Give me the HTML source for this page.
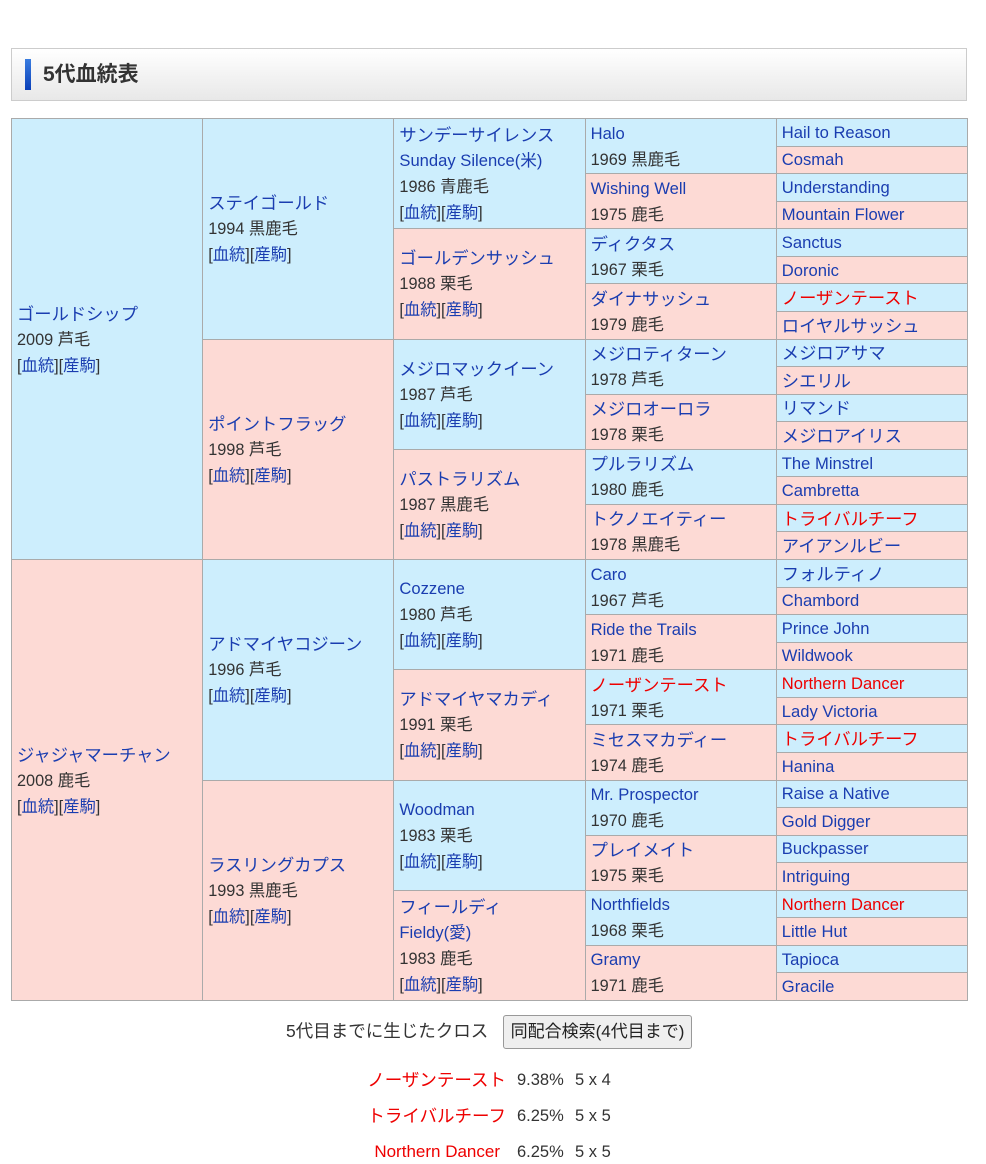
<!DOCTYPE html>
<html><head><meta charset="utf-8"><style>
body{margin:0;background:#fff;font-family:"Liberation Sans","Noto Sans CJK JP",sans-serif;color:#333;width:986px;height:1164px;position:relative;overflow:hidden}
.hd{position:absolute;left:11px;top:48px;width:954px;height:51px;border:1px solid #ccc;background:linear-gradient(#fff,#e8e8e8)}
.bar{position:absolute;left:13px;top:10px;width:6px;height:31px;background:linear-gradient(#3a7de0,#0a3fb8)}
.hd h2{position:absolute;left:31px;top:0;margin:0;line-height:51px;font-size:21px;font-weight:bold;color:#333}
.g{position:absolute;left:11px;top:118px;width:956px;height:882px;display:grid;grid-template-columns:repeat(5,1fr);grid-template-rows:repeat(32,1fr);border-top:1px solid #aaa;border-left:1px solid #aaa}
.g>div{border-right:1px solid #aaa;border-bottom:1px solid #aaa;display:flex;flex-direction:column;justify-content:center;padding-left:5px;padding-top:1px;line-height:26px;font-size:16.3px;overflow:hidden;white-space:nowrap}
.m{background:#cdeefd}.f{background:#fddad5}
.n{color:#1a3db0;font-size:17.3px}
.g5 .n,.l{font-size:16.6px}
.r{color:#e00!important}
a{color:#1a3db0;text-decoration:none}
.foot{position:absolute;left:286px;top:1018px;font-size:17.5px;line-height:26px}
.btn{position:absolute;left:503px;top:1015px;width:187px;height:32px;border:1px solid #999;border-radius:3px;background:#efefef;font-size:17px;line-height:32px;text-align:center;color:#222}
.cr{position:absolute;left:0;width:986px;font-size:16.5px;line-height:24px}
.cr span{position:absolute}
.cr .nm{right:480px;color:#e00;font-size:17.5px}
</style></head><body>
<div class="hd"><div class="bar"></div><h2>5代血統表</h2></div>
<div class="g">
<div class="m" style="grid-column:1;grid-row:1/17"><span class="n">ゴールドシップ</span><span>2009 芦毛</span><span>[<a>血統</a>][<a>産駒</a>]</span></div>
<div class="f" style="grid-column:1;grid-row:17/33"><span class="n">ジャジャマーチャン</span><span>2008 鹿毛</span><span>[<a>血統</a>][<a>産駒</a>]</span></div>

<div class="m" style="grid-column:2;grid-row:1/9"><span class="n">ステイゴールド</span><span>1994 黒鹿毛</span><span>[<a>血統</a>][<a>産駒</a>]</span></div>
<div class="f" style="grid-column:2;grid-row:9/17"><span class="n">ポイントフラッグ</span><span>1998 芦毛</span><span>[<a>血統</a>][<a>産駒</a>]</span></div>
<div class="m" style="grid-column:2;grid-row:17/25"><span class="n">アドマイヤコジーン</span><span>1996 芦毛</span><span>[<a>血統</a>][<a>産駒</a>]</span></div>
<div class="f" style="grid-column:2;grid-row:25/33"><span class="n">ラスリングカプス</span><span>1993 黒鹿毛</span><span>[<a>血統</a>][<a>産駒</a>]</span></div>

<div class="m" style="grid-column:3;grid-row:1/5"><span class="n">サンデーサイレンス</span><span class="n l">Sunday Silence(米)</span><span>1986 青鹿毛</span><span>[<a>血統</a>][<a>産駒</a>]</span></div>
<div class="f" style="grid-column:3;grid-row:5/9"><span class="n">ゴールデンサッシュ</span><span>1988 栗毛</span><span>[<a>血統</a>][<a>産駒</a>]</span></div>
<div class="m" style="grid-column:3;grid-row:9/13"><span class="n">メジロマックイーン</span><span>1987 芦毛</span><span>[<a>血統</a>][<a>産駒</a>]</span></div>
<div class="f" style="grid-column:3;grid-row:13/17"><span class="n">パストラリズム</span><span>1987 黒鹿毛</span><span>[<a>血統</a>][<a>産駒</a>]</span></div>
<div class="m" style="grid-column:3;grid-row:17/21"><span class="n l">Cozzene</span><span>1980 芦毛</span><span>[<a>血統</a>][<a>産駒</a>]</span></div>
<div class="f" style="grid-column:3;grid-row:21/25"><span class="n">アドマイヤマカディ</span><span>1991 栗毛</span><span>[<a>血統</a>][<a>産駒</a>]</span></div>
<div class="m" style="grid-column:3;grid-row:25/29"><span class="n l">Woodman</span><span>1983 栗毛</span><span>[<a>血統</a>][<a>産駒</a>]</span></div>
<div class="f" style="grid-column:3;grid-row:29/33"><span class="n">フィールディ</span><span class="n l">Fieldy(愛)</span><span>1983 鹿毛</span><span>[<a>血統</a>][<a>産駒</a>]</span></div>

<div class="m" style="grid-column:4;grid-row:1/3"><span class="n l">Halo</span><span>1969 黒鹿毛</span></div>
<div class="f" style="grid-column:4;grid-row:3/5"><span class="n l">Wishing Well</span><span>1975 鹿毛</span></div>
<div class="m" style="grid-column:4;grid-row:5/7"><span class="n">ディクタス</span><span>1967 栗毛</span></div>
<div class="f" style="grid-column:4;grid-row:7/9"><span class="n">ダイナサッシュ</span><span>1979 鹿毛</span></div>
<div class="m" style="grid-column:4;grid-row:9/11"><span class="n">メジロティターン</span><span>1978 芦毛</span></div>
<div class="f" style="grid-column:4;grid-row:11/13"><span class="n">メジロオーロラ</span><span>1978 栗毛</span></div>
<div class="m" style="grid-column:4;grid-row:13/15"><span class="n">プルラリズム</span><span>1980 鹿毛</span></div>
<div class="f" style="grid-column:4;grid-row:15/17"><span class="n">トクノエイティー</span><span>1978 黒鹿毛</span></div>
<div class="m" style="grid-column:4;grid-row:17/19"><span class="n l">Caro</span><span>1967 芦毛</span></div>
<div class="f" style="grid-column:4;grid-row:19/21"><span class="n l">Ride the Trails</span><span>1971 鹿毛</span></div>
<div class="m" style="grid-column:4;grid-row:21/23"><span class="n r">ノーザンテースト</span><span>1971 栗毛</span></div>
<div class="f" style="grid-column:4;grid-row:23/25"><span class="n">ミセスマカディー</span><span>1974 鹿毛</span></div>
<div class="m" style="grid-column:4;grid-row:25/27"><span class="n l">Mr. Prospector</span><span>1970 鹿毛</span></div>
<div class="f" style="grid-column:4;grid-row:27/29"><span class="n">プレイメイト</span><span>1975 栗毛</span></div>
<div class="m" style="grid-column:4;grid-row:29/31"><span class="n l">Northfields</span><span>1968 栗毛</span></div>
<div class="f" style="grid-column:4;grid-row:31/33"><span class="n l">Gramy</span><span>1971 鹿毛</span></div>

<div class="m g5" style="grid-column:5"><span class="n">Hail to Reason</span></div>
<div class="f g5" style="grid-column:5"><span class="n">Cosmah</span></div>
<div class="m g5" style="grid-column:5"><span class="n">Understanding</span></div>
<div class="f g5" style="grid-column:5"><span class="n">Mountain Flower</span></div>
<div class="m g5" style="grid-column:5"><span class="n">Sanctus</span></div>
<div class="f g5" style="grid-column:5"><span class="n">Doronic</span></div>
<div class="m g5" style="grid-column:5"><span class="n r" style="font-size:17.3px">ノーザンテースト</span></div>
<div class="f g5" style="grid-column:5"><span class="n" style="font-size:17.3px">ロイヤルサッシュ</span></div>
<div class="m g5" style="grid-column:5"><span class="n" style="font-size:17.3px">メジロアサマ</span></div>
<div class="f g5" style="grid-column:5"><span class="n" style="font-size:17.3px">シエリル</span></div>
<div class="m g5" style="grid-column:5"><span class="n" style="font-size:17.3px">リマンド</span></div>
<div class="f g5" style="grid-column:5"><span class="n" style="font-size:17.3px">メジロアイリス</span></div>
<div class="m g5" style="grid-column:5"><span class="n">The Minstrel</span></div>
<div class="f g5" style="grid-column:5"><span class="n">Cambretta</span></div>
<div class="m g5" style="grid-column:5"><span class="n r" style="font-size:17.3px">トライバルチーフ</span></div>
<div class="f g5" style="grid-column:5"><span class="n" style="font-size:17.3px">アイアンルビー</span></div>
<div class="m g5" style="grid-column:5"><span class="n" style="font-size:17.3px">フォルティノ</span></div>
<div class="f g5" style="grid-column:5"><span class="n">Chambord</span></div>
<div class="m g5" style="grid-column:5"><span class="n">Prince John</span></div>
<div class="f g5" style="grid-column:5"><span class="n">Wildwook</span></div>
<div class="m g5" style="grid-column:5"><span class="n r">Northern Dancer</span></div>
<div class="f g5" style="grid-column:5"><span class="n">Lady Victoria</span></div>
<div class="m g5" style="grid-column:5"><span class="n r" style="font-size:17.3px">トライバルチーフ</span></div>
<div class="f g5" style="grid-column:5"><span class="n">Hanina</span></div>
<div class="m g5" style="grid-column:5"><span class="n">Raise a Native</span></div>
<div class="f g5" style="grid-column:5"><span class="n">Gold Digger</span></div>
<div class="m g5" style="grid-column:5"><span class="n">Buckpasser</span></div>
<div class="f g5" style="grid-column:5"><span class="n">Intriguing</span></div>
<div class="m g5" style="grid-column:5"><span class="n r">Northern Dancer</span></div>
<div class="f g5" style="grid-column:5"><span class="n">Little Hut</span></div>
<div class="m g5" style="grid-column:5"><span class="n">Tapioca</span></div>
<div class="f g5" style="grid-column:5"><span class="n">Gracile</span></div>
</div>
<div class="foot">5代目までに生じたクロス</div>
<div class="btn">同配合検索(4代目まで)</div>
<div class="cr" style="top:1068px"><span class="nm">ノーザンテースト</span><span style="left:517px">9.38%</span><span style="left:575px">5 x 4</span></div>
<div class="cr" style="top:1104px"><span class="nm">トライバルチーフ</span><span style="left:517px">6.25%</span><span style="left:575px">5 x 5</span></div>
<div class="cr" style="top:1140px"><span class="nm" style="font-size:17px;right:486px">Northern Dancer</span><span style="left:517px">6.25%</span><span style="left:575px">5 x 5</span></div>
</body></html>
